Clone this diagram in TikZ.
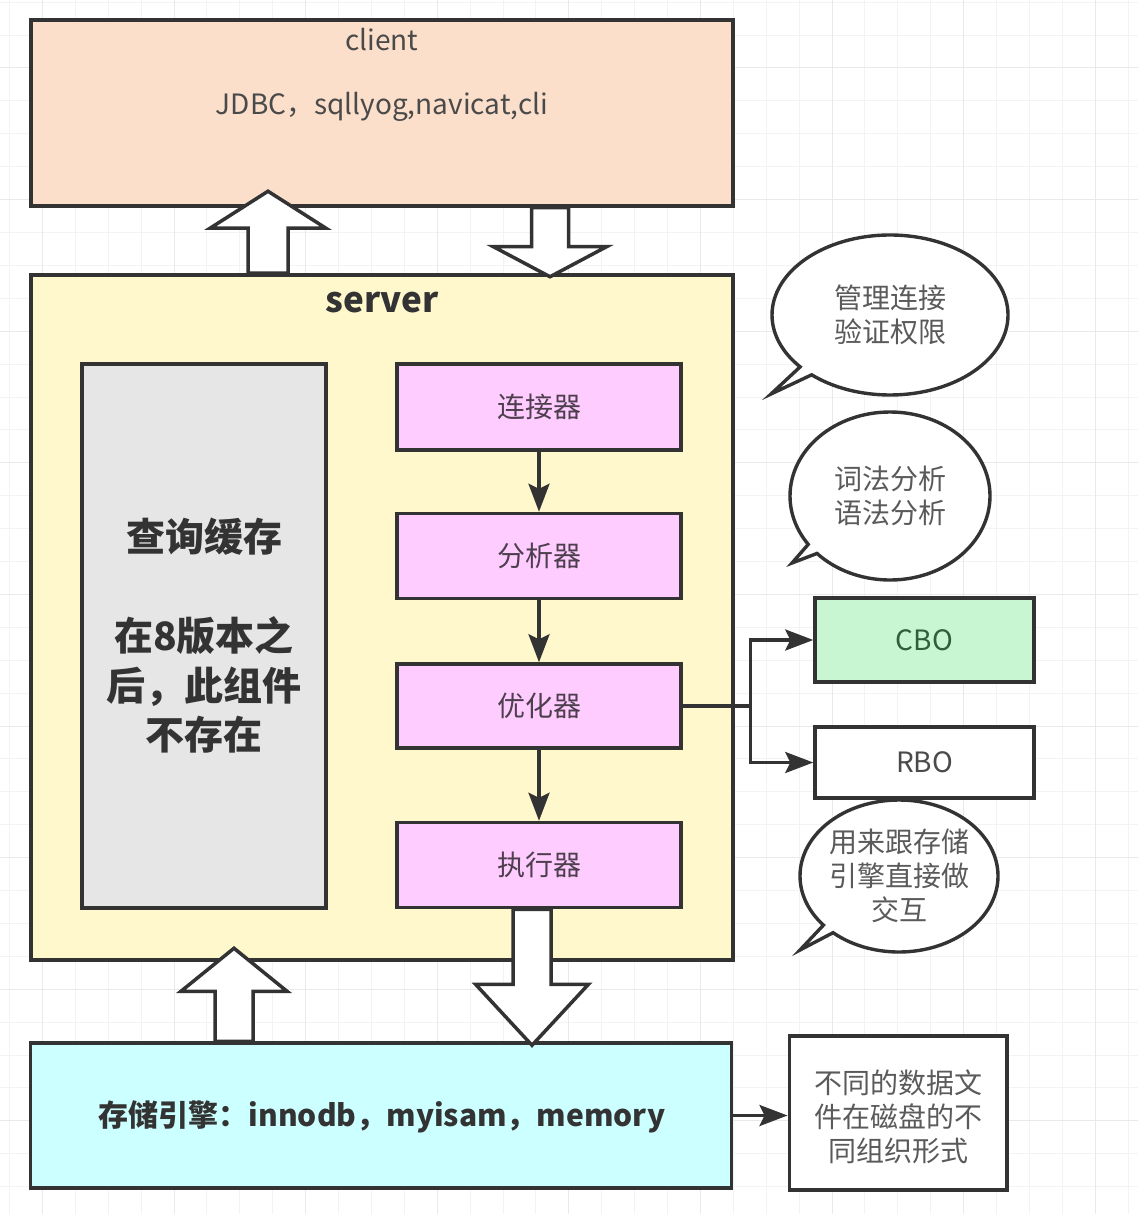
\documentclass[tikz,border=0pt]{standalone}
\usepackage{fontspec}
\setmainfont{Noto Sans CJK SC}
\usetikzlibrary{arrows.meta,calc,shapes.callouts}
\definecolor{linec}{HTML}{333333}
\definecolor{clientc}{HTML}{FBDFCB}
\definecolor{serverc}{HTML}{FFF8CD}
\definecolor{grayc}{HTML}{E6E6E6}
\definecolor{pinkc}{HTML}{FFCCFF}
\definecolor{greenc}{HTML}{C8F5D2}
\definecolor{cyanc}{HTML}{CCFFFF}
\definecolor{txtc}{HTML}{4A4A4A}
\definecolor{pinktxt}{HTML}{4D3F4D}
\definecolor{bubc}{HTML}{5A5A5A}
\definecolor{cboc}{HTML}{2E5E3C}
\definecolor{gridminor}{HTML}{F3F3F3}
\definecolor{gridmajor}{HTML}{E9E9E9}
\newcommand{\fatarrow}[6]{%
  \draw[fat] (#1) ++(-#4,0) -- ++(0,{#6*#2}) -- ++({#4-#5},0) -- ++(#5,{#6*#3})
    -- ++(#5,{-(#6)*#3}) -- ++({#4-#5},0) -- ++(0,{-(#6)*#2}) -- cycle;}
\begin{document}
\begin{tikzpicture}[x=1pt,y=-1pt,
  box/.style={draw=linec, line width=3.5pt, inner sep=0pt, align=center},
  txt/.style={font=\fontsize{28}{34}\selectfont, text=txtc, align=center, inner sep=0pt},
  arr/.style={draw=linec, line width=3.2pt, -{Stealth[length=28pt,width=21pt,inset=5pt]}},
  fat/.style={draw=linec, line width=3.5pt, fill=white, line join=miter},
  bub/.style={ellipse callout, draw=linec, line width=3.4pt, fill=white, inner sep=0pt,
    callout pointer arc=8, align=center, text=bubc, font=\fontsize{28}{34}\selectfont}
]
\useasboundingbox (0,0) rectangle (1138,1214);
\fill[white] (0,0) rectangle (1138,1214);
% background grid
\foreach \i in {0,...,34} {\draw[gridminor, line width=1pt] ({9.5+\i*32.9},0) -- ({9.5+\i*32.9},1214);}
\foreach \i in {0,...,36} {\draw[gridminor, line width=1pt] (0,{2.2+\i*32.9}) -- (1138,{2.2+\i*32.9});}
\foreach \i in {0,...,8} {\draw[gridmajor, line width=1pt] ({42.4+\i*131.6},0) -- ({42.4+\i*131.6},1214);}
\foreach \i in {0,...,9} {\draw[gridmajor, line width=1pt] (0,{68+\i*131.6}) -- (1138,{68+\i*131.6});}

% client
\node[box, fill=clientc, minimum width=702, minimum height=186] (client) at (382,113) {};
\node[txt] (clientname) at (382,40) {client};
\node[txt] (clientlist) at (382,107) {JDBC，sqllyog,navicat,cli};

% server
\node[box, fill=serverc, minimum width=702, minimum height=685] (server) at (382,617.5) {};
\node[txt, font=\bfseries\fontsize{35}{40}\selectfont, text=linec] (servername) at (382,303) {server};

% query cache
\node[box, fill=grayc, minimum width=244, minimum height=544, text=linec,
  font=\bfseries\fontsize{39}{49.5}\selectfont] (cache) at (204,636)
  {查询缓存\\[49.5pt]在8版本之\\后，此组件\\不存在};

% pipeline
\node[box, txt, fill=pinkc, text=pinktxt, minimum width=284, minimum height=86] (conn) at (539,407) {连接器};
\node[box, txt, fill=pinkc, text=pinktxt, minimum width=284, minimum height=85] (ana) at (539,556) {分析器};
\node[box, txt, fill=pinkc, text=pinktxt, minimum width=284, minimum height=84] (opt) at (539,706) {优化器};
\node[box, txt, fill=pinkc, text=pinktxt, minimum width=284, minimum height=85] (exe) at (539,865) {执行器};
\draw[arr] (conn) -- (ana);
\draw[arr] (ana) -- (opt);
\draw[arr] (opt) -- (exe);

% optimizers
\node[box, txt, fill=greenc, text=cboc, minimum width=219, minimum height=84] (cbo) at (924.5,640) {CBO};
\node[box, txt, fill=white, minimum width=219, minimum height=71] (rbo) at (924.5,762.5) {RBO};
\coordinate (br) at ($(opt.east)+(68,0)$);
\draw[arr] (opt.east) -- (br) |- (cbo.west);
\draw[arr] (br) |- (rbo.west);

% bubbles
\node[bub, minimum width=236, minimum height=160, callout absolute pointer={(771,394)}] (b1) at (890,315) {管理连接\\验证权限};
\node[bub, minimum width=200, minimum height=168, callout absolute pointer={(792,563)}] (b2) at (890,496) {词法分析\\语法分析};
\node[bub, minimum width=198, minimum height=152, callout absolute pointer={(800,950)}] (b3) at (899,876) {用来跟存储\\引擎直接做\\交互};

% storage
\node[box, fill=cyanc, minimum width=701, minimum height=145] (store) at (381,1115.5) {};
\node[inner sep=0pt, text=linec, font=\bfseries\fontsize{30}{34}\selectfont] (storetxt) at (382,1117) {存储引擎：innodb，myisam，memory};
\node[box, fill=white, minimum width=217.5, minimum height=154] (note) at (898,1113) {};
\node[txt, text=bubc] (notetxt) at (898,1117) {不同的数据文\\件在磁盘的不\\同组织形式};
\draw[arr] (store.east) -- (store.east -| note.west);

% fat arrows
\coordinate (fa1) at (268,0 |- server.north);
\coordinate (fa2) at (550,0 |- client.south);
\coordinate (fa3) at (234,0 |- store.north);
\coordinate (fa4) at (532,0 |- exe.south);
\fatarrow{fa1}{45}{37}{20}{58}{-1}
\fatarrow{fa2}{39}{30}{18.5}{56.5}{1}
\fatarrow{fa3}{50}{43}{19}{53}{-1}
\fatarrow{fa4}{75}{61}{19}{56.5}{1}
\end{tikzpicture}
\end{document}
